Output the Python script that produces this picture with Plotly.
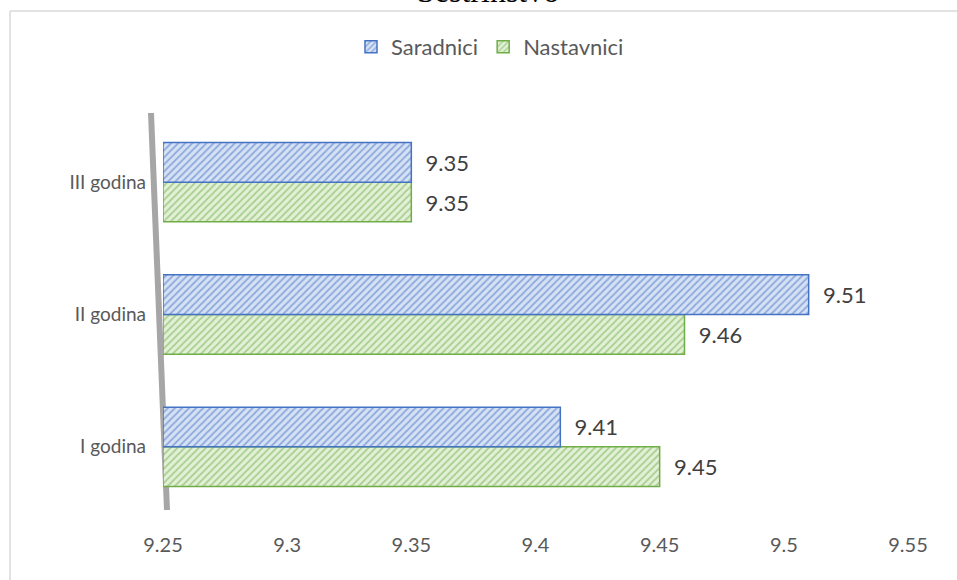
import plotly.graph_objects as go

categories = ["I godina", "II godina", "III godina"]
saradnici = [9.41, 9.51, 9.35]
nastavnici = [9.45, 9.46, 9.35]
axis_start = 9.25
x_ticks = [9.25, 9.3, 9.35, 9.4, 9.45, 9.5, 9.55]
x_tick_labels = ["9.25", "9.3", "9.35", "9.4", "9.45", "9.5", "9.55"]

BLUE = "#4472c4"
BLUE_BG = "#d6e1f4"
GREEN = "#70ad47"
GREEN_BG = "#e2f0d7"
FONT = "Lato"
PAD = "\u00a0\u00a0"

fig = go.Figure()
fig.add_trace(go.Bar(
    name="Nastavnici", y=categories, x=[v - axis_start for v in nastavnici], base=axis_start,
    orientation="h", text=[PAD + f"{v:.2f}" for v in nastavnici], textposition="outside",
    textfont=dict(family=FONT, size=22, color="#404040"), cliponaxis=False,
    marker=dict(color=GREEN_BG, line=dict(color=GREEN, width=1.5),
                pattern=dict(shape="/", fgcolor=GREEN, bgcolor=GREEN_BG, size=5, solidity=0.35)),
))
fig.add_trace(go.Bar(
    name="Saradnici", y=categories, x=[v - axis_start for v in saradnici], base=axis_start,
    orientation="h", text=[PAD + f"{v:.2f}" for v in saradnici], textposition="outside",
    textfont=dict(family=FONT, size=22, color="#404040"), cliponaxis=False,
    marker=dict(color=BLUE_BG, line=dict(color=BLUE, width=1.5),
                pattern=dict(shape="/", fgcolor=BLUE, bgcolor=BLUE_BG, size=5, solidity=0.35)),
))

# pixel -> paper helpers for decoration only
L, R, T, B = 163, 49, 116, 67
W, H = 957, 580
pw, ph = W - L - R, H - T - B
px = lambda x: (x - L) / pw
py = lambda y: (H - B - y) / ph

shapes = [
    dict(type="line", xref="paper", yref="paper", x0=px(151), y0=py(113), x1=px(167), y1=py(510),
         line=dict(color="#a6a6a6", width=6), layer="below"),
    dict(type="line", xref="paper", yref="paper", x0=px(10), y0=py(11), x1=px(10), y1=py(585),
         line=dict(color="#d9d9d9", width=1.5)),
    dict(type="line", xref="paper", yref="paper", x0=px(10), y0=py(11), x1=px(960), y1=py(11),
         line=dict(color="#d9d9d9", width=1.5)),
]

fig.update_layout(
    width=W, height=H,
    margin=dict(l=L, r=R, t=T, b=B, autoexpand=False),
    paper_bgcolor="white", plot_bgcolor="white",
    barmode="group", bargap=0.4, bargroupgap=0,
    shapes=shapes,
    showlegend=True,
    legend=dict(orientation="h", traceorder="reversed", x=px(490), xanchor="center",
                y=py(47), yanchor="middle", font=dict(family=FONT, size=22, color="#595959"),
                itemwidth=30),
    annotations=[dict(text="Sestrinstvo", xref="paper", yref="paper", x=px(488), y=py(-9),
                      xanchor="center", yanchor="middle", showarrow=False,
                      font=dict(family="Liberation Serif", size=32, color="black"))],
    xaxis=dict(range=[9.25, 9.55], tickvals=x_ticks, ticktext=x_tick_labels,
               showgrid=False, zeroline=False, showline=False, ticks="", automargin=False,
               tickfont=dict(family=FONT, size=20, color="#595959"), ticklabelstandoff=18),
    yaxis=dict(categoryorder="array", categoryarray=categories, showgrid=False,
               zeroline=False, showline=False, ticks="", automargin=False,
               tickfont=dict(family=FONT, size=19, color="#595959"), ticklabelstandoff=16),
)

fig.write_html("out.html", config={"displayModeBar": False},
               post_script="document.body.style.margin='0px';")
